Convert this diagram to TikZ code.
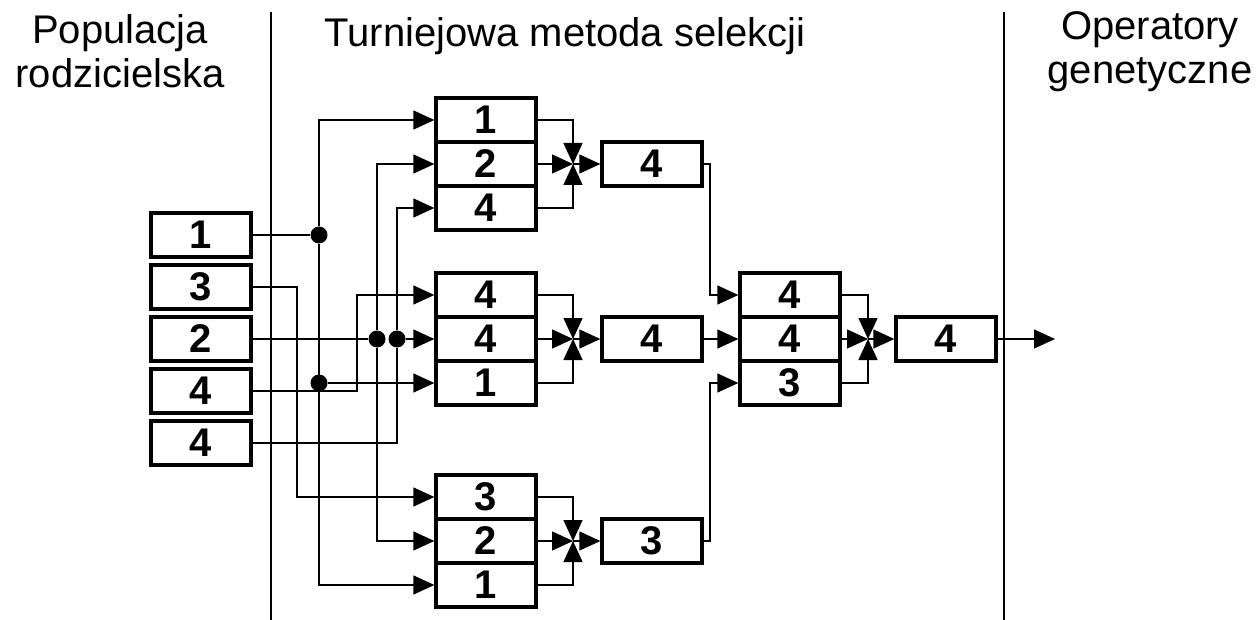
\documentclass[tikz,border=0pt]{standalone}
\usepackage{fontspec}
\setmainfont{Liberation Sans}
\usetikzlibrary{arrows.meta}

\begin{document}
\begin{tikzpicture}[
    x=1pt, y=-1pt,
    box/.style={draw, line width=3.3pt, minimum width=100pt, minimum height=44pt, inner sep=0pt, font=\fontsize{40}{40}\selectfont\bfseries},
    head/.style={align=center, inner sep=0pt, font=\fontsize{40}{44}\selectfont},
    wire/.style={line width=1.3pt, -{Triangle[length=21pt, width=19pt]}},
    line/.style={line width=1.3pt},
    dot/.style={circle, fill, inner sep=0pt, minimum size=17pt},
    sep/.style={line width=1.5pt}
]
\useasboundingbox (0,0) rectangle (1257,620);

% Naglowki
\node[head, anchor=north] (hpop) at (120,14) {Populacja\\rodzicielska};
\node[head, anchor=base] (hsel) at (565,47) {Turniejowa metoda selekcji};
\node[head, anchor=north] (hop) at (1150,11) {Operatory\\genetyczne};

% Linie podzialu
\draw[sep] (271,12) -- (271,620);
\draw[sep] (1004,12) -- (1004,620);

% Populacja rodzicielska
\node[box] (p1) at (201,235) {1};
\node[box] (p2) at (201,287) {3};
\node[box] (p3) at (201,339) {2};
\node[box] (p4) at (201,391) {4};
\node[box] (p5) at (201,443) {4};

% Turnieje
\node[box] (t1a) at (486,120) {1};
\node[box] (t1b) at (486,164) {2};
\node[box] (t1c) at (486,208) {4};

\node[box] (t2a) at (486,295) {4};
\node[box] (t2b) at (486,339) {4};
\node[box] (t2c) at (486,383) {1};

\node[box] (t3a) at (486,497) {3};
\node[box] (t3b) at (486,541) {2};
\node[box] (t3c) at (486,585) {1};

% Zwyciezcy
\node[box] (w1) at (652,164) {4};
\node[box] (w2) at (652,339) {4};
\node[box] (w3) at (652,541) {3};

% Turniej koncowy
\node[box] (fa) at (790,295) {4};
\node[box] (fb) at (790,339) {4};
\node[box] (fc) at (790,383) {3};
\node[box] (fw) at (946,339) {4};

% Punkty pomocnicze
\coordinate (j1) at (573,164);
\coordinate (j2) at (573,339);
\coordinate (j3) at (573,541);
\coordinate (j4) at (868,339);
\coordinate (k2) at (297,497);
\coordinate (k4) at (357,295);
\coordinate (k5) at (710,295);
\coordinate (k6) at (710,383);
\coordinate (out) at (1055,339);

% Rozgalezienia
\node[dot] (d1) at (319,235) {};
\node[dot] (d2) at (377,339) {};
\node[dot] (d3) at (397,339) {};
\node[dot] (d4) at (319,383) {};

% Polaczenia populacji
\draw[line] (p1.east) -- (d1);
\draw[wire] (d1) |- (t1a.west);
\draw[wire] (d1) |- (t3c.west);
\draw[wire] (d4) -- (t2c.west);
\draw[wire] (p2.east) -| (k2) -- (t3a.west);
\draw[line] (p3.east) -- (d2);
\draw[wire] (d2) |- (t1b.west);
\draw[wire] (d2) |- (t3b.west);
\draw[wire] (p4.east) -| (k4) -- (t2a.west);
\draw[wire] (p5.east) -| (d3) |- (t1c.west);
\draw[wire] (d3) -- (t2b.west);

% Wybor w turniejach
\draw[wire] (t1a.east) -| (j1);
\draw[wire] (t1b.east) -- (j1);
\draw[wire] (t1c.east) -| (j1);
\draw[wire] (j1) -- (w1.west);

\draw[wire] (t2a.east) -| (j2);
\draw[wire] (t2b.east) -- (j2);
\draw[wire] (t2c.east) -| (j2);
\draw[wire] (j2) -- (w2.west);

\draw[wire] (t3a.east) -| (j3);
\draw[wire] (t3b.east) -- (j3);
\draw[wire] (t3c.east) -| (j3);
\draw[wire] (j3) -- (w3.west);

% Turniej koncowy
\draw[wire] (w1.east) -| (k5) -- (fa.west);
\draw[wire] (w2.east) -- (fb.west);
\draw[wire] (w3.east) -| (k6) -- (fc.west);

\draw[wire] (fa.east) -| (j4);
\draw[wire] (fb.east) -- (j4);
\draw[wire] (fc.east) -| (j4);
\draw[wire] (j4) -- (fw.west);
\draw[wire] (fw.east) -- (out);

\end{tikzpicture}
\end{document}
